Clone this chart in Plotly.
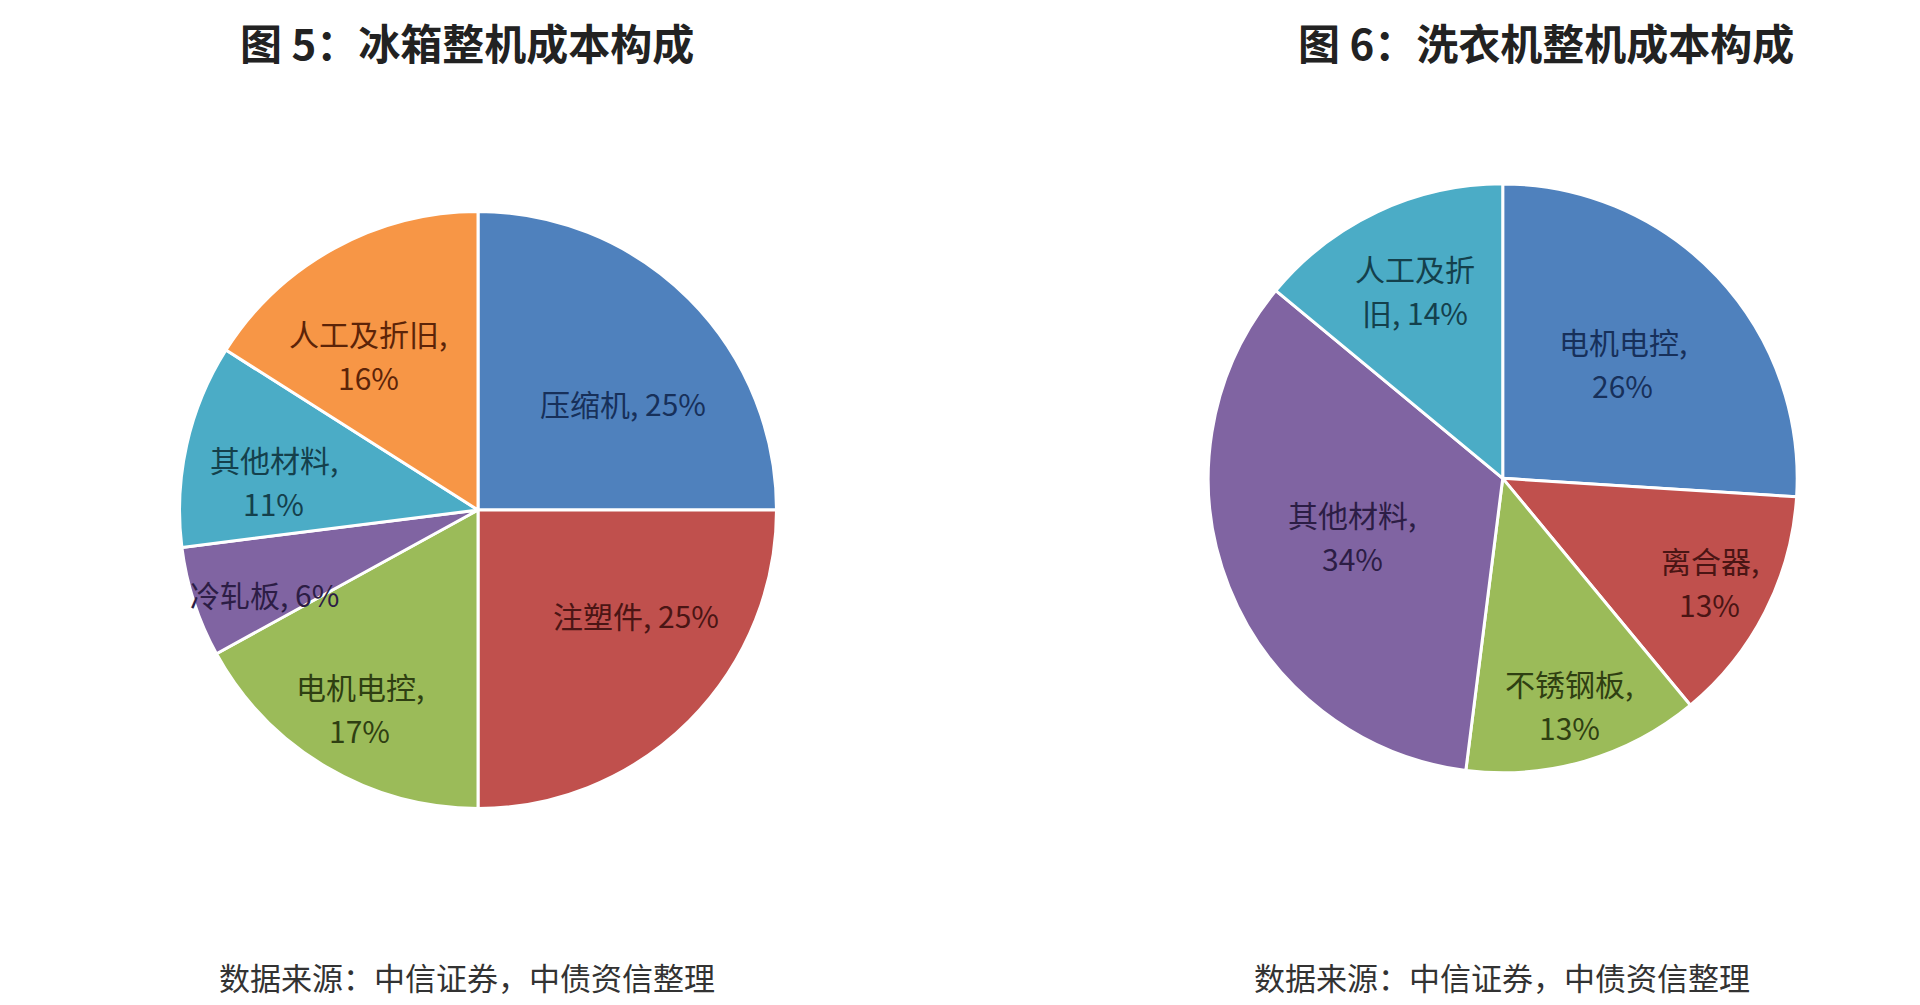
import math
import plotly.graph_objects as go

# 图5 冰箱整机成本构成
fridge_parts = ["压缩机", "注塑件", "电机电控", "冷轧板", "其他材料", "人工及折旧"]
fridge_share = [25, 25, 17, 6, 11, 16]
fridge_prefix = ["压缩机, ", "注塑件, ", "电机电控,<br>", "冷轧板, ", "其他材料,<br>", "人工及折旧,<br>"]

# 图6 洗衣机整机成本构成
washer_parts = ["电机电控", "离合器", "不锈钢板", "其他材料", "人工及折旧"]
washer_share = [26, 13, 13, 34, 14]
washer_prefix = ["电机电控,<br>", "离合器,<br>", "不锈钢板,<br>", "其他材料,<br>", "人工及折<br>旧, "]

# styling
fridge_colors = ["#4F81BD", "#C0504D", "#9BBB59", "#8064A2", "#4BACC6", "#F79646"]
fridge_txt = ["#17305a", "#4a1514", "#2f3f12", "#2c1d45", "#14404c", "#5c2408"]
washer_colors = ["#4F81BD", "#C0504D", "#9BBB59", "#8064A2", "#4BACC6"]
washer_txt = ["#17305a", "#4a1514", "#2f3f12", "#2c1d45", "#14404c"]
# label placement: fraction of radius, and turn (deg) away from the slice bisector
fridge_lblpos = [0.60, 0.64, 0.78, 0.77, 0.69, 0.63]
fridge_lblturn = [9, -11, 0, -4, -5, -7]
washer_lblpos = [0.56, 0.79, 0.81, 0.55, 0.70]
washer_lblturn = [0, 0, 0, 0, 0]

W, H = 1920, 1005
FONT = "Noto Sans CJK SC"
LBL_SIZE = 30
LINE_GAP = 44

fridge_dom = dict(x=[0.0891, 0.4005], y=[0.2035, 0.7975])
washer_dom = dict(x=[0.625, 0.932], y=[0.239, 0.825])

fig = go.Figure()


def add_pie(parts, share, colors, dom):
    fig.add_trace(go.Pie(
        labels=parts, values=share,
        sort=False, direction="clockwise", rotation=0,
        marker=dict(colors=colors, line=dict(color="white", width=3)),
        textinfo="none", domain=dom,
        showlegend=False, hoverinfo="label+percent",
    ))


def add_labels(share, prefix, txtcolors, lblpos, lblturn, dom):
    # slice labels placed near the bisector of each slice
    cx = (dom["x"][0] + dom["x"][1]) / 2 * W
    cy = (1 - (dom["y"][0] + dom["y"][1]) / 2) * H
    R = min((dom["x"][1] - dom["x"][0]) * W, (dom["y"][1] - dom["y"][0]) * H) / 2
    total = sum(share)
    cum = 0
    for v, p, c, f, t in zip(share, prefix, txtcolors, lblpos, lblturn):
        mid = math.radians((cum + v / 2) / total * 360 + t)
        cum += v
        px = cx + f * R * math.sin(mid)
        py = cy - f * R * math.cos(mid) - 2
        lines = (p + f"{v}%").split("<br>")
        n = len(lines)
        for k, line in enumerate(lines):
            off = (k - (n - 1) / 2) * LINE_GAP
            fig.add_annotation(x=px / W, y=1 - (py + off) / H, xref="paper", yref="paper",
                               text=line.strip(), showarrow=False,
                               xanchor="center", yanchor="middle",
                               font=dict(family=FONT, size=LBL_SIZE, color=c))


add_pie(fridge_parts, fridge_share, fridge_colors, fridge_dom)
add_pie(washer_parts, washer_share, washer_colors, washer_dom)
add_labels(fridge_share, fridge_prefix, fridge_txt, fridge_lblpos, fridge_lblturn, fridge_dom)
add_labels(washer_share, washer_prefix, washer_txt, washer_lblpos, washer_lblturn, washer_dom)

# titles and sources
for x, t in [(0.239, "图 5：冰箱整机成本构成"), (0.801, "图 6：洗衣机整机成本构成")]:
    fig.add_annotation(x=x, y=0.967, xref="paper", yref="paper", text="<b>" + t + "</b>",
                       xanchor="center", yanchor="middle",
                       showarrow=False, font=dict(family=FONT, size=42, color="#222222"))
for x in [0.239, 0.778]:
    fig.add_annotation(x=x, y=0.036, xref="paper", yref="paper", text="数据来源：中信证券，中债资信整理",
                       xanchor="center", yanchor="middle",
                       showarrow=False, font=dict(family=FONT, size=31, color="#333333"))

fig.update_layout(
    width=W, height=H,
    margin=dict(l=0, r=0, t=0, b=0),
    paper_bgcolor="white", plot_bgcolor="white",
)

fig.write_html("out.html")
